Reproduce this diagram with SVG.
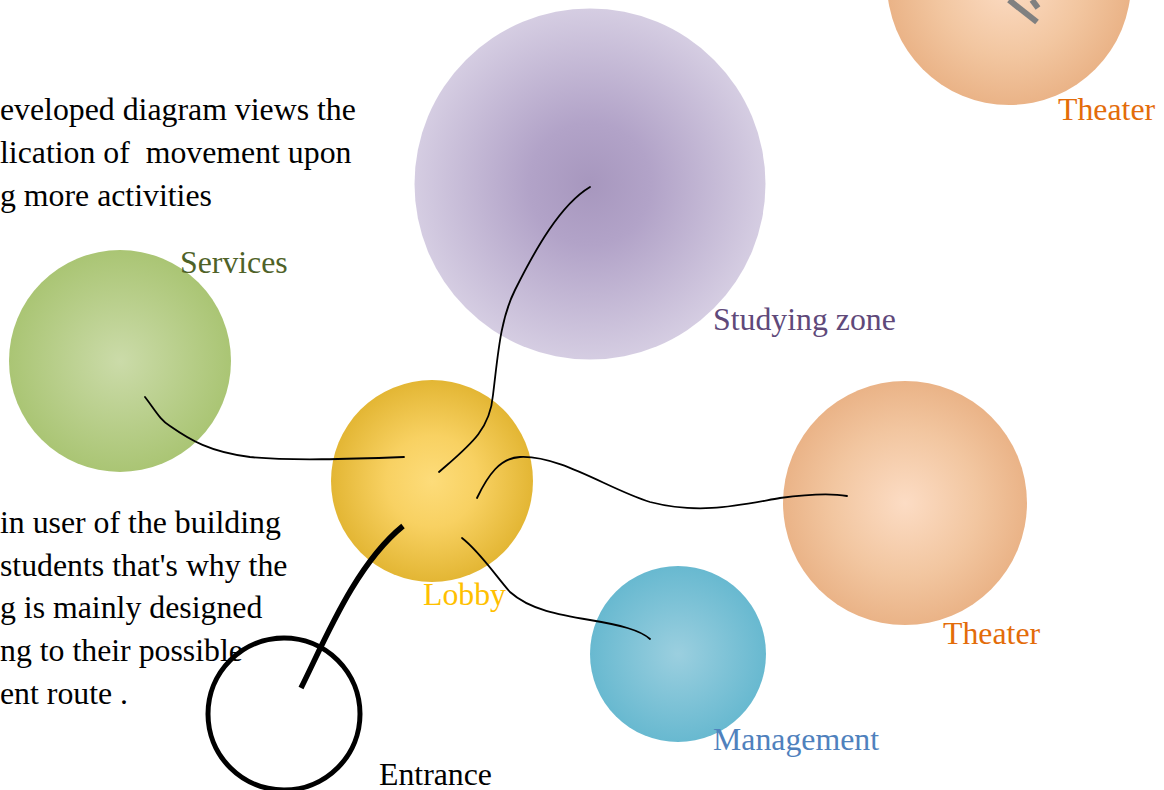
<svg xmlns="http://www.w3.org/2000/svg" width="1164" height="790" viewBox="0 0 1164 790">
<style>
text{font-family:"Liberation Serif","Times New Roman",serif;font-size:31.8px;white-space:pre}
.body{fill:#000}
.conn{fill:none;stroke:#000;stroke-width:1.8;stroke-linecap:round}
.thick{fill:none;stroke:#000;stroke-width:5.5}
</style>
<defs>
<radialGradient id="gStudy"><stop offset="0" stop-color="#a797be"/><stop offset="0.35" stop-color="#b2a3c8"/><stop offset="1" stop-color="#d5cde2"/></radialGradient>
<radialGradient id="gServ"><stop offset="0" stop-color="#cbdba9"/><stop offset="1" stop-color="#aac574"/></radialGradient>
<radialGradient id="gLobby"><stop offset="0" stop-color="#fddc7a"/><stop offset="0.45" stop-color="#f8d162"/><stop offset="1" stop-color="#e3b634"/></radialGradient>
<radialGradient id="gTheat"><stop offset="0" stop-color="#fcdcc4"/><stop offset="0.6" stop-color="#f2c6a0"/><stop offset="1" stop-color="#eab387"/></radialGradient>
<radialGradient id="gMan"><stop offset="0" stop-color="#9bcfdf"/><stop offset="1" stop-color="#68b9d0"/></radialGradient>
</defs>
<rect width="1164" height="790" fill="#fff"/>

<g id="text-top">
<text class="body" x="0" y="120">eveloped diagram views the</text>
<text class="body" x="0" y="163">lication of  movement upon</text>
<text class="body" x="0" y="206">g more activities</text>
</g>
<g id="text-bottom">
<text class="body" x="0" y="533">in user of the building</text>
<text class="body" x="0" y="576">students that's why the</text>
<text class="body" x="0" y="618">g is mainly designed</text>
<text class="body" x="0" y="661">ng to their possible</text>
<text class="body" x="0" y="704">ent route .</text>
</g>

<g id="theater-top">
<circle cx="1009" cy="-17" r="122" fill="url(#gTheat)"/>
<line x1="1009" y1="0" x2="1037" y2="22" stroke="#808080" stroke-width="6"/>
<line x1="1032" y1="0" x2="1038" y2="8" stroke="#808080" stroke-width="6"/>
<text x="1058" y="120" fill="#e36c09">Theater</text>
</g>

<g id="studying">
<circle cx="590" cy="184" r="175.5" fill="url(#gStudy)"/>
<text x="713" y="330" fill="#5f497a">Studying zone</text>
</g>

<g id="services">
<circle cx="120" cy="361" r="111" fill="url(#gServ)"/>
<text x="180" y="273" fill="#4f6228">Services</text>
</g>

<g id="lobby">
<circle cx="432" cy="481" r="101" fill="url(#gLobby)"/>
<text x="423" y="605" fill="#ffc000">Lobby</text>
</g>

<g id="theater">
<circle cx="905" cy="503" r="122" fill="url(#gTheat)"/>
<text x="943" y="644" fill="#e36c09">Theater</text>
</g>

<g id="management">
<circle cx="678" cy="654" r="88" fill="url(#gMan)"/>
<text x="713" y="750" fill="#4f81bd">Management</text>
</g>

<g id="entrance">
<circle cx="284" cy="714" r="76" fill="none" stroke="#000" stroke-width="5"/>
<text x="379" y="785" fill="#000">Entrance</text>
</g>

<g id="connectors">
<path class="conn" d="M439,472 C470,445 490,430 493,395 C498,355 500,320 515,290 C535,250 560,205 590,187"/>
<path class="conn" d="M145,397 C155,410 160,420 170,426 C190,440 210,452 250,457 C290,461 350,459 404,457"/>
<path class="conn" d="M477,498 C488,475 500,458 520,457 C560,455 610,490 650,502 C700,515 740,505 780,498 C810,494 830,493 847,496"/>
<path class="conn" d="M462,538 C480,552 495,575 510,592 C530,610 560,615 590,620 C620,625 640,630 650,639"/>
<path class="thick" d="M301,688 C325,640 355,565 403,526"/>
</g>
</svg>
